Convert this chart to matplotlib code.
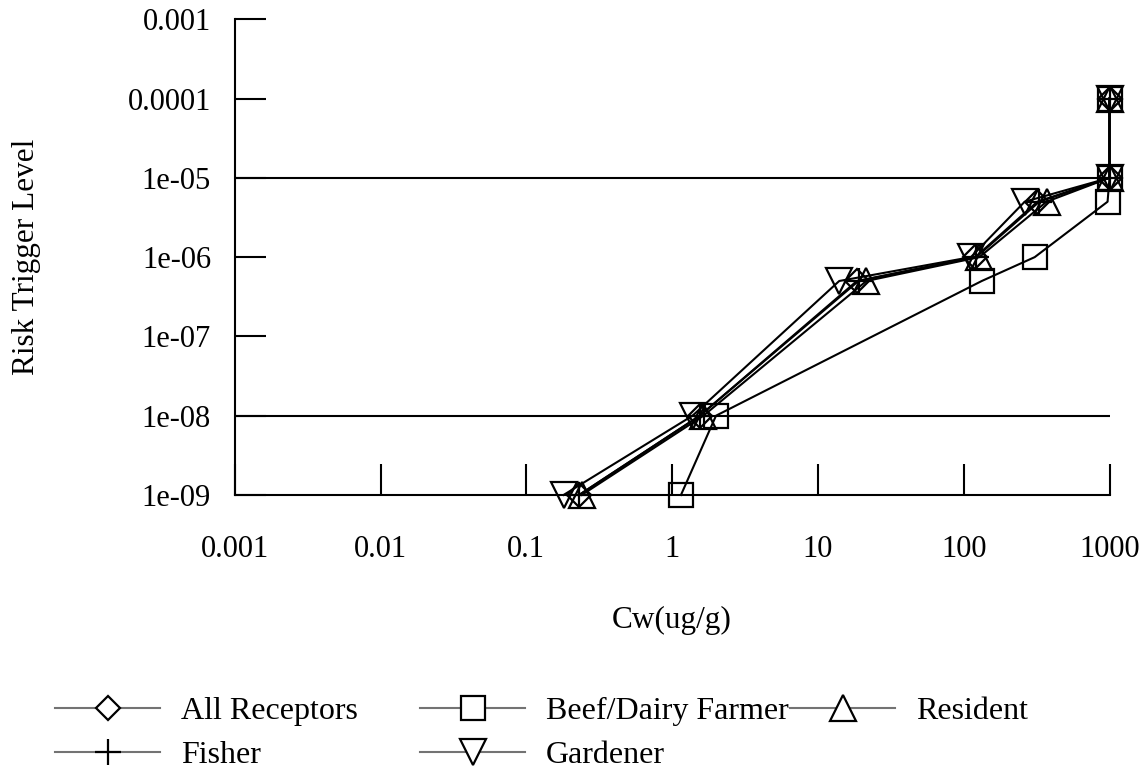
import matplotlib.pyplot as plt
from matplotlib.lines import Line2D

plt.rcParams['font.family'] = ['Liberation Serif', 'DejaVu Serif']

# Risk trigger levels and the concentrations reached by each receptor
risk = [1e-9, 1e-8, 5e-7, 1e-6, 5e-6, 1e-5, 1e-4]
all_receptors = [0.23, 1.55, 18.5, 120, 320, 1000, 1000]
beef_dairy = [1.15, 2.0, 133, 307, 970, 1000, 1000]
resident = [0.24, 1.64, 21.5, 128, 370, 1000, 1000]
fisher = [0.23, 1.55, 19, 122, 330, 1000, 1000]
gardener = [0.18, 1.38, 14, 112, 262, 1000, 1000]

series = {
    'All Receptors': (all_receptors, 'D', 12),
    'Beef/Dairy Farmer': (beef_dairy, 's', 17),
    'Resident': (resident, '^', 19),
    'Fisher': (fisher, '+', 19),
    'Gardener': (gardener, 'v', 19),
}

fig = plt.figure(figsize=(11.45, 7.71), dpi=100)
ax = fig.add_axes([0.205, 0.358, 0.764, 0.617])

ax.axhline(1e-5, color='black', lw=1.5, zorder=1)
ax.axhline(1e-8, color='black', lw=1.5, zorder=1)

handles = {}
for name, (cw, mk, ms) in series.items():
    ax.plot(cw, risk, color='black', lw=1.5, marker=mk, ms=ms,
            mfc='none', mec='black', mew=1.6, clip_on=False, zorder=3)
    handles[name] = Line2D([], [], color='0.45', lw=1.5, marker=mk, ms=ms,
                           mfc='white', mec='black', mew=1.6)

ax.set_xscale('log')
ax.set_yscale('log')
ax.set_xlim(0.001, 1000)
ax.set_ylim(1e-9, 1e-3)

xticks = [0.001, 0.01, 0.1, 1, 10, 100, 1000]
xlabels = ['0.001', '0.01', '0.1', '1', '10', '100', '1000']
yticks = [1e-9, 1e-8, 1e-7, 1e-6, 1e-5, 1e-4, 1e-3]
ylabels = ['1e-09', '1e-08', '1e-07', '1e-06', '1e-05', '0.0001', '0.001']
ax.set_xticks(xticks)
ax.set_xticklabels(xlabels)
ax.set_yticks(yticks)
ax.set_yticklabels(ylabels)
ax.minorticks_off()
ax.tick_params(direction='in', length=22, width=1.5, labelsize=22,
               colors='black')
ax.tick_params(axis='x', pad=29)
ax.tick_params(axis='y', pad=17)

for side in ['top', 'right']:
    ax.spines[side].set_visible(False)
for side in ['left', 'bottom']:
    ax.spines[side].set_linewidth(1.5)

ax.set_xlabel('Cw(ug/g)', fontsize=22.5, labelpad=30)
ax.set_ylabel('Risk Trigger Level', fontsize=22.5)
ax.yaxis.set_label_coords(-0.222, 0.5)

# legend laid out in three fixed columns, filled row by row
columns = [
    (55, ['All Receptors', 'Fisher']),
    (420, ['Beef/Dairy Farmer', 'Gardener']),
    (790, ['Resident']),
]
for x0, names in columns:
    fig.legend([handles[n] for n in names], names, frameon=False,
               fontsize=23, handlelength=3.3, handletextpad=0.65,
               labelspacing=0.45, borderpad=0, borderaxespad=0,
               loc='upper left', bbox_to_anchor=(x0 / 1145, 1 - 697 / 771))

fig.savefig('out.png', dpi=100)
